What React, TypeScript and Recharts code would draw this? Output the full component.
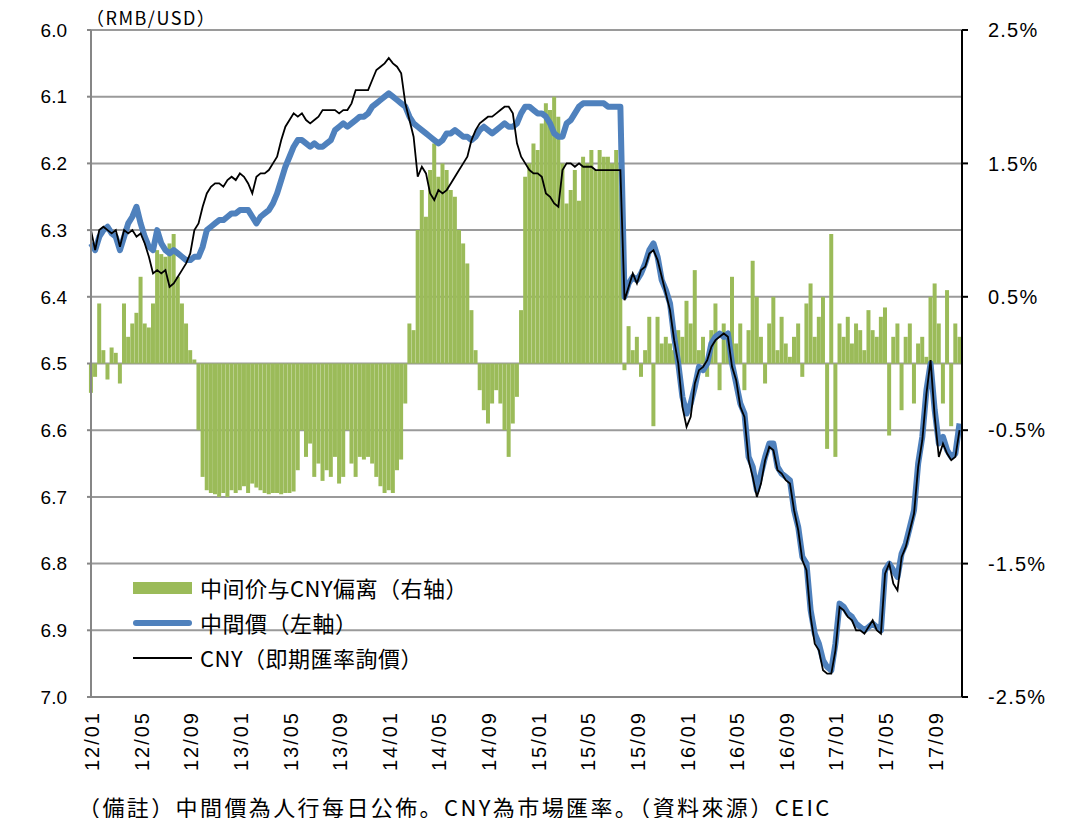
import React from 'react';
import { ComposedChart, Bar, Line, XAxis, YAxis, CartesianGrid } from 'recharts';

// x axis: months since 2012/01, three readings per month
const TICK_LABELS = [
  '12/01', '12/05', '12/09', '13/01', '13/05', '13/09', '14/01', '14/05', '14/09',
  '15/01', '15/05', '15/09', '16/01', '16/05', '16/09', '17/01', '17/05', '17/09',
];
const X_TICKS = TICK_LABELS.map((_, i) => i * 4);

// 中間價 (RMB/USD, left axis)
const MID_2012 = [
  6.32, 6.33, 6.31, 6.30, 6.295, 6.305, 6.31, 6.33, 6.31, 6.29, 6.28, 6.265,
  6.29, 6.31, 6.325, 6.33, 6.30, 6.32, 6.33, 6.335, 6.33, 6.335, 6.34, 6.345,
  6.345, 6.34, 6.34, 6.325, 6.30, 6.295, 6.29, 6.285, 6.285, 6.28, 6.275, 6.275,
];
const MID_2013 = [
  6.27, 6.27, 6.27, 6.28, 6.29, 6.28, 6.275, 6.27, 6.26, 6.245, 6.225, 6.205,
  6.19, 6.175, 6.165, 6.165, 6.17, 6.175, 6.17, 6.175, 6.175, 6.17, 6.165, 6.15,
  6.145, 6.14, 6.145, 6.14, 6.135, 6.13, 6.13, 6.125, 6.115, 6.11, 6.105, 6.10,
];
const MID_2014 = [
  6.095, 6.10, 6.105, 6.11, 6.115, 6.13, 6.14, 6.145, 6.15, 6.155, 6.16, 6.165,
  6.17, 6.165, 6.155, 6.155, 6.15, 6.155, 6.16, 6.16, 6.165, 6.16, 6.15, 6.145,
  6.15, 6.155, 6.15, 6.145, 6.14, 6.145, 6.145, 6.14, 6.125, 6.115, 6.115, 6.12,
];
const MID_2015 = [
  6.125, 6.125, 6.13, 6.14, 6.155, 6.16, 6.16, 6.14, 6.135, 6.125, 6.115, 6.11,
  6.11, 6.11, 6.11, 6.11, 6.11, 6.115, 6.115, 6.115, 6.115, 6.40, 6.38, 6.37,
  6.375, 6.365, 6.35, 6.33, 6.32, 6.34, 6.375, 6.39, 6.41, 6.46, 6.50, 6.55,
];
const MID_2016 = [
  6.575, 6.56, 6.535, 6.505, 6.51, 6.50, 6.47, 6.46, 6.455, 6.46, 6.455, 6.50,
  6.53, 6.56, 6.575, 6.64, 6.655, 6.69, 6.665, 6.64, 6.62, 6.62, 6.655, 6.665,
  6.67, 6.675, 6.72, 6.745, 6.79, 6.80, 6.87, 6.905, 6.92, 6.945, 6.955, 6.96,
];
const MID_2017 = [
  6.92, 6.86, 6.865, 6.875, 6.88, 6.89, 6.895, 6.90, 6.895, 6.89, 6.895, 6.90,
  6.81, 6.80, 6.81, 6.82, 6.785, 6.77, 6.745, 6.72, 6.65, 6.61, 6.54, 6.50,
  6.57, 6.62, 6.61, 6.63, 6.64, 6.635, 6.59,
];

// CNY 即期匯率詢價 (left axis)
const CNY_2012 = [
  6.30, 6.33, 6.30, 6.295, 6.30, 6.305, 6.30, 6.325, 6.30, 6.305, 6.30, 6.31,
  6.305, 6.32, 6.34, 6.365, 6.36, 6.365, 6.36, 6.385, 6.38, 6.37, 6.36, 6.35,
  6.335, 6.30, 6.29, 6.265, 6.245, 6.235, 6.23, 6.23, 6.235, 6.225, 6.22, 6.225,
];
const CNY_2013 = [
  6.215, 6.22, 6.23, 6.245, 6.22, 6.215, 6.215, 6.21, 6.20, 6.19, 6.165, 6.145,
  6.135, 6.125, 6.13, 6.125, 6.135, 6.14, 6.135, 6.13, 6.12, 6.12, 6.12, 6.12,
  6.125, 6.12, 6.12, 6.11, 6.09, 6.09, 6.09, 6.09, 6.075, 6.06, 6.055, 6.05,
];
const CNY_2014 = [
  6.042, 6.05, 6.055, 6.065, 6.11, 6.135, 6.16, 6.22, 6.205, 6.215, 6.245, 6.255,
  6.24, 6.245, 6.24, 6.23, 6.22, 6.21, 6.20, 6.19, 6.165, 6.15, 6.14, 6.135,
  6.13, 6.13, 6.125, 6.12, 6.115, 6.115, 6.125, 6.17, 6.19, 6.20, 6.21, 6.215,
];
const CNY_2015 = [
  6.215, 6.22, 6.245, 6.25, 6.26, 6.265, 6.21, 6.20, 6.20, 6.205, 6.20, 6.205,
  6.205, 6.205, 6.21, 6.21, 6.21, 6.21, 6.21, 6.21, 6.21, 6.405, 6.385, 6.365,
  6.38, 6.36, 6.355, 6.335, 6.33, 6.345, 6.37, 6.395, 6.42, 6.465, 6.50, 6.565,
];
const CNY_2016 = [
  6.595, 6.58, 6.53, 6.51, 6.505, 6.495, 6.475, 6.465, 6.46, 6.455, 6.46, 6.505,
  6.525, 6.565, 6.58, 6.645, 6.67, 6.70, 6.68, 6.645, 6.625, 6.63, 6.66, 6.665,
  6.675, 6.68, 6.72, 6.75, 6.795, 6.81, 6.88, 6.92, 6.93, 6.96, 6.965, 6.965,
];
const CNY_2017 = [
  6.93, 6.865, 6.87, 6.88, 6.885, 6.90, 6.90, 6.905, 6.895, 6.885, 6.90, 6.905,
  6.815, 6.80, 6.83, 6.84, 6.79, 6.775, 6.75, 6.725, 6.655, 6.615, 6.545, 6.495,
  6.58, 6.64, 6.62, 6.635, 6.645, 6.64, 6.60,
];

// 中间价与CNY偏离 (%, right axis)
const DEV_2012 = [
  -0.22, -0.1, 0.45, 0.1, -0.12, 0.12, 0.08, -0.15, 0.45, 0.2, 0.3, 0.38,
  0.65, 0.3, 0.27, 0.45, 0.85, 0.82, 0.8, 0.9, 0.97, 0.65, 0.45, 0.3,
  0.1, 0.03, -0.5, -0.85, -0.95, -0.97, -0.98, -1.0, -0.97, -1.0, -0.95, -0.97,
];
const DEV_2013 = [
  -0.95, -0.92, -0.97, -0.9, -0.93, -0.95, -0.97, -0.98, -0.97, -0.97, -0.98, -0.97,
  -0.97, -0.96, -0.8, -0.5, -0.7, -0.6, -0.85, -0.75, -0.88, -0.8, -0.85, -0.7,
  -0.9, -0.85, -0.5, -0.75, -0.85, -0.7, -0.72, -0.7, -0.75, -0.85, -0.92, -0.97,
];
const DEV_2014 = [
  -0.95, -0.97, -0.8, -0.72, -0.3, 0.3, 0.25, 1.0, 1.3, 1.1, 1.45, 1.65,
  1.4, 1.5, 1.45, 1.3, 1.25, 1.0, 0.9, 0.75, 0.4, 0.1, -0.2, -0.35,
  -0.45, -0.3, -0.2, -0.3, -0.5, -0.7, -0.45, -0.25, 0.4, 1.4, 1.5, 1.65,
];
const DEV_2015 = [
  1.6, 1.8, 1.95, 1.9, 2.0, 1.85, 1.5, 1.2, 1.3, 1.45, 1.22, 1.55,
  1.5, 1.6, 1.45, 1.6, 1.55, 1.55, 1.5, 1.6, 1.5, -0.05, 0.28, 0.1,
  0.2, -0.1, 0.1, 0.35, -0.47, 0.35, 0.15, 0.2, 0.15, 0.1, 0.25, 0.2,
];
const DEV_2016 = [
  0.47, 0.3, 0.7, 0.1, 0.2, -0.1, 0.25, 0.45, -0.2, 0.3, 0.2, 0.65,
  0.15, 0.3, -0.2, 0.25, 0.77, 0.5, 0.2, -0.15, 0.3, 0.5, 0.1, 0.35,
  0.15, 0.05, 0.2, 0.3, -0.1, 0.45, 0.6, 0.2, 0.35, 0.5, -0.64, 0.97,
];
const DEV_2017 = [
  -0.7, 0.3, 0.2, 0.35, 0.15, 0.3, 0.25, 0.1, 0.4, 0.25, 0.2, 0.35,
  0.42, -0.54, 0.2, 0.3, -0.35, 0.2, 0.3, -0.3, 0.15, 0.2, 0.05, 0.5,
  0.6, 0.3, -0.3, 0.55, -0.47, 0.3, 0.2,
];

const MID = [...MID_2012, ...MID_2013, ...MID_2014, ...MID_2015, ...MID_2016, ...MID_2017];
const CNY = [...CNY_2012, ...CNY_2013, ...CNY_2014, ...CNY_2015, ...CNY_2016, ...CNY_2017];
const DEV = [...DEV_2012, ...DEV_2013, ...DEV_2014, ...DEV_2015, ...DEV_2016, ...DEV_2017];

const data = MID.map((mid, i) => ({ t: i / 3, mid, cny: CNY[i], dev: DEV[i] }));

const LEFT_TICKS = [6.0, 6.1, 6.2, 6.3, 6.4, 6.5, 6.6, 6.7, 6.8, 6.9, 7.0];
const RIGHT_TICKS = [-2.5, -1.5, -0.5, 0.5, 1.5, 2.5];

const TICK_FONT = '"Liberation Sans", Arial, sans-serif';
const CJK_FONT = '"Noto Sans CJK JP", "Noto Sans CJK TC", sans-serif';

const XTick = (props: any) => {
  const { x, y, payload } = props;
  const label = TICK_LABELS[Math.round(payload.value / 4)];
  return (
    <text
      transform={`translate(${x + 8},${y + 6}) rotate(-90)`}
      textAnchor="end"
      fontSize={20}
      letterSpacing={2}
      fontFamily={TICK_FONT}
      fill="#000"
    >
      {label}
    </text>
  );
};

// legend drawn as an overlay inside the plot area
const ChartLegend = () => (
  <div
    style={{
      position: 'absolute', left: 125, top: 562, fontFamily: CJK_FONT, fontSize: 22,
      letterSpacing: 0.5, color: '#000', lineHeight: '35px',
    }}
  >
    <div style={{ display: 'flex', alignItems: 'center' }}>
      <span style={{ width: 59, height: 12, background: '#9BBB59', marginRight: 8 }} />
      中间价与CNY偏离（右轴）
    </div>
    <div style={{ display: 'flex', alignItems: 'center' }}>
      <span style={{ width: 59, height: 6, borderRadius: 3, background: '#4F81BD', marginRight: 8 }} />
      中間價（左軸）
    </div>
    <div style={{ display: 'flex', alignItems: 'center' }}>
      <span style={{ width: 59, height: 2, background: '#000', marginRight: 8 }} />
      CNY（即期匯率詢價）
    </div>
  </div>
);

export default function App() {
  return (
    <div style={{ position: 'relative', width: 1051, height: 810, background: '#fff' }}>
      <div
        style={{
          position: 'absolute', left: 78, top: -1, fontFamily: CJK_FONT, fontSize: 18,
          letterSpacing: 1.5, lineHeight: '20px', color: '#000',
        }}
      >
        （RMB/USD）
      </div>
      <ComposedChart
        width={1051}
        height={775}
        data={data}
        margin={{ top: 22, right: 17, bottom: 10, left: 33 }}
        barCategoryGap={0}
        barGap={0}
      >
        <CartesianGrid yAxisId="left" vertical={false} stroke="#9a9a9a" strokeWidth={2} />
        <XAxis
          dataKey="t"
          type="number"
          domain={[0, 70.2]}
          ticks={X_TICKS}
          interval={0}
          tick={<XTick />}
          tickLine={false}
          height={76}
          axisLine={{ stroke: '#868686', strokeWidth: 2 }}
        />
        <YAxis
          yAxisId="left"
          orientation="left"
          domain={[6.0, 7.0]}
          reversed
          ticks={LEFT_TICKS}
          interval={0}
          width={50}
          tickFormatter={(v: number) => v.toFixed(1)}
          tick={{ fontSize: 19, fontFamily: TICK_FONT, fill: '#000' }}
          tickSize={4}
          tickMargin={20}
          tickLine={{ stroke: '#868686', strokeWidth: 2 }}
          axisLine={{ stroke: '#868686', strokeWidth: 2 }}
        />
        <YAxis
          yAxisId="right"
          orientation="right"
          domain={[-2.5, 2.5]}
          ticks={RIGHT_TICKS}
          interval={0}
          width={80}
          tickFormatter={(v: number) => `${v.toFixed(1)}%`}
          tick={{ fontSize: 20, letterSpacing: 1.2, fontFamily: TICK_FONT, fill: '#000' }}
          tickSize={6}
          tickMargin={20}
          tickLine={{ stroke: '#000', strokeWidth: 2 }}
          axisLine={{ stroke: '#000', strokeWidth: 2 }}
        />
        <Bar yAxisId="right" dataKey="dev" fill="#9BBB59" barSize={4} isAnimationActive={false} />
        <Line
          yAxisId="left"
          dataKey="mid"
          type="linear"
          stroke="#4F81BD"
          strokeWidth={6}
          strokeLinejoin="round"
          dot={false}
          isAnimationActive={false}
        />
        <Line
          yAxisId="left"
          dataKey="cny"
          type="linear"
          stroke="#000"
          strokeWidth={1.8}
          dot={false}
          isAnimationActive={false}
        />
      </ComposedChart>
      <ChartLegend />
      <div
        style={{
          position: 'absolute', left: 70, top: 786, fontFamily: CJK_FONT, fontSize: 22,
          letterSpacing: 2.4, lineHeight: '24px', color: '#000', whiteSpace: 'nowrap',
        }}
      >
        （備註）中間價為人行每日公佈。CNY為市場匯率。（資料來源）CEIC
      </div>
    </div>
  );
}
